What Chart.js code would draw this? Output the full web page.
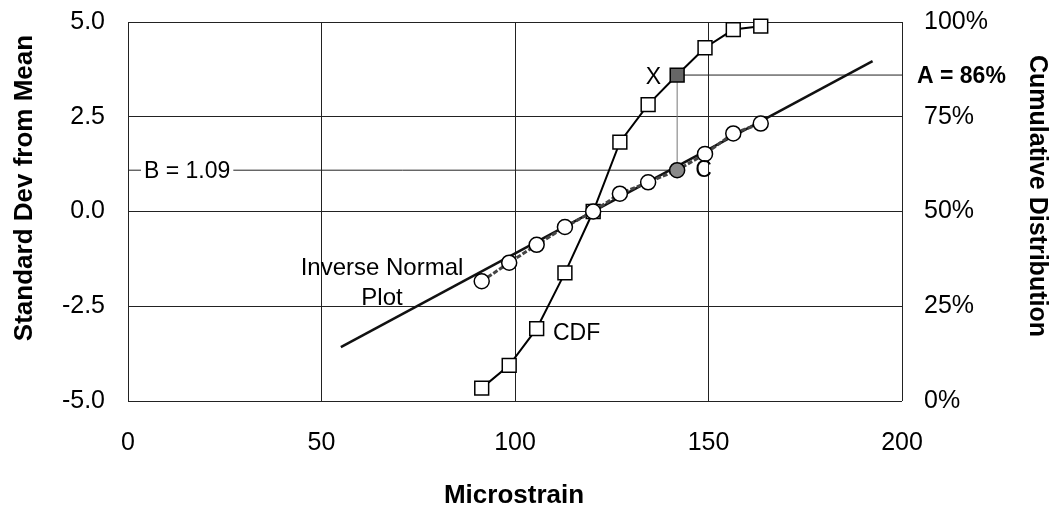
<!DOCTYPE html>
<html>
<head>
<meta charset="utf-8">
<script src="https://cdn.jsdelivr.net/npm/chart.js@4.4.1/dist/chart.umd.min.js"></script>
<style>
  html, body { margin: 0; padding: 0; background: #fff; }
  #wrap { width: 1056px; height: 507px; }
</style>
</head>
<body>
<div id="wrap"><canvas id="chart" width="1056" height="507"></canvas></div>
<script>
// values
var microstrain = [91.4, 98.5, 105.6, 112.9, 120.2, 127.1, 134.4, 141.9, 149.1, 156.4, 163.5];
var stdDevFromMean = [-1.84, -1.35, -0.88, -0.41, 0.0, 0.47, 0.77, 1.09, 1.52, 2.06, 2.32];
var cumulativePct = [3.4, 9.4, 19.1, 33.8, 50.0, 68.3, 78.2, 86.0, 93.2, 98.0, 98.9];
var fitX = [55, 192.4];
var fitY = [-3.58, 3.97];
var xTicks = [0, 50, 100, 150, 200];
var leftTicks = [-5.0, -2.5, 0.0, 2.5, 5.0];
var rightTicks = [0, 25, 50, 75, 100];
var markIndex = 7;      // the point marked X / C
var aValue = 86;        // A = 86%
var bValue = 1.09;      // B = 1.09

var FONT = '"Liberation Sans", Arial, Helvetica, sans-serif';

function pts(xs, ys) {
    return xs.map(function(x, i) { return { x: x, y: ys[i] }; });
}

function fillFor(base, marked) {
    return microstrain.map(function(_, i) { return i === markIndex ? marked : base; });
}

function setTicks(list) {
    return function(scale) {
        scale.ticks = list.map(function(v) { return { value: v }; });
    };
}

// fixed box sizes so the plot frame lands where the reference has it
function fixWidth(w) {
    return function(s) {
        s.width = w;
        s.paddingTop = 0;
        s.paddingBottom = 0;
    };
}

function fixHeight(h) {
    return function(s) {
        s.height = h;
        s.paddingLeft = 0;
        s.paddingRight = 0;
    };
}

var textPlugin = {
    id: 'textLabels',
    afterDraw: function(chart) {
        var ctx = chart.ctx;
        var sx = chart.scales.x, sy = chart.scales.y, sy2 = chart.scales.y2;
        var area = chart.chartArea;
        var mx = sx.getPixelForValue(microstrain[markIndex]);
        var cy = sy.getPixelForValue(bValue);
        var ay = sy2.getPixelForValue(aValue);

        ctx.save();
        ctx.fillStyle = '#000';
        ctx.textBaseline = 'alphabetic';

        // B label sits on its line, with a white box behind
        ctx.font = '23px ' + FONT;
        var bText = 'B = ' + bValue.toFixed(2);
        var bw = ctx.measureText(bText).width;
        ctx.fillStyle = '#fff';
        ctx.fillRect(area.left + 13, cy - 12, bw + 6, 24);
        ctx.fillStyle = '#000';
        ctx.textAlign = 'left';
        ctx.fillText(bText, area.left + 16, cy + 8);

        ctx.font = 'bold 23px ' + FONT;
        ctx.fillText('A = ' + aValue + '%', 917, ay + 8);

        ctx.font = '23px ' + FONT;
        ctx.textAlign = 'right';
        ctx.fillText('X', mx - 16, ay + 9);
        ctx.textAlign = 'left';
        ctx.fillText('C', mx + 18, cy + 7);

        ctx.textAlign = 'center';
        ctx.font = '24px ' + FONT;
        ctx.fillText('Inverse Normal', 382, 275);
        ctx.fillText('Plot', 382, 305);
        ctx.textAlign = 'left';
        ctx.font = '23px ' + FONT;
        ctx.fillText('CDF', 553, 340);

        // axis titles
        ctx.font = 'bold 26px ' + FONT;
        ctx.textAlign = 'center';
        ctx.fillText('Microstrain', 514, 503);

        ctx.save();
        ctx.translate(32, 188);
        ctx.rotate(-Math.PI / 2);
        ctx.fillText('Standard Dev from Mean', 0, 0);
        ctx.restore();

        ctx.save();
        ctx.font = 'bold 25px ' + FONT;
        ctx.translate(1030, 196);
        ctx.rotate(Math.PI / 2);
        ctx.fillText('Cumulative Distribution', 0, 0);
        ctx.restore();

        ctx.restore();
    }
};

function initChart() {
    var canvas = document.getElementById('chart');
    var mark = microstrain[markIndex];
    new Chart(canvas, {
        type: 'scatter',
        data: {
            datasets: [{
                label: 'Inverse Normal points',
                data: pts(microstrain, stdDevFromMean),
                yAxisID: 'y',
                showLine: true,
                borderColor: '#444',
                borderWidth: 3,
                borderDash: [5, 2],
                pointRadius: 7.5,
                pointBorderWidth: 1.5,
                pointBorderColor: '#000',
                pointBackgroundColor: fillFor('#fff', '#8a8a8a')
            }, {
                label: 'CDF',
                data: pts(microstrain, cumulativePct),
                yAxisID: 'y2',
                clip: false,
                showLine: true,
                borderColor: '#000',
                borderWidth: 2,
                pointStyle: 'rect',
                pointRadius: 9.8,
                pointBorderWidth: 1.5,
                pointBorderColor: '#000',
                pointBackgroundColor: fillFor('#fff', '#666')
            }, {
                label: 'Inverse Normal Plot',
                data: pts(fitX, fitY),
                yAxisID: 'y',
                showLine: true,
                borderColor: '#111',
                borderWidth: 2.5,
                pointRadius: 0
            }, {
                label: 'B line',
                data: [{ x: 0, y: bValue }, { x: mark, y: bValue }],
                yAxisID: 'y',
                showLine: true,
                borderColor: '#222',
                borderWidth: 1,
                pointRadius: 0
            }, {
                label: 'X to C',
                data: [{ x: mark, y: bValue }, { x: mark, y: (aValue / 10) - 5 }],
                yAxisID: 'y',
                showLine: true,
                borderColor: '#777',
                borderWidth: 1,
                pointRadius: 0
            }, {
                label: 'A line',
                data: [{ x: mark, y: aValue }, { x: 200, y: aValue }],
                yAxisID: 'y2',
                showLine: true,
                borderColor: '#222',
                borderWidth: 1,
                pointRadius: 0
            }]
        },
        options: {
            responsive: false,
            animation: false,
            layout: { padding: { top: 22, left: 0, right: 0, bottom: 0 } },
            plugins: {
                legend: { display: false },
                tooltip: { enabled: false }
            },
            scales: {
                x: {
                    type: 'linear',
                    position: 'bottom',
                    min: 0,
                    max: 200,
                    afterBuildTicks: setTicks(xTicks),
                    afterFit: fixHeight(106),
                    border: { display: false },
                    grid: { color: '#222', lineWidth: 1, drawTicks: false },
                    ticks: { color: '#000', padding: 27, font: { size: 25, family: FONT } }
                },
                y: {
                    position: 'left',
                    min: -5,
                    max: 5,
                    afterBuildTicks: setTicks(leftTicks),
                    afterFit: fixWidth(128),
                    border: { display: false },
                    grid: { color: '#222', lineWidth: 1, drawTicks: false },
                    ticks: {
                        color: '#000',
                        padding: 23,
                        font: { size: 25, family: FONT },
                        callback: function(v) { return Number(v).toFixed(1); }
                    }
                },
                y2: {
                    position: 'right',
                    min: 0,
                    max: 100,
                    afterBuildTicks: setTicks(rightTicks),
                    afterFit: fixWidth(154),
                    border: { display: false },
                    grid: { drawOnChartArea: false, drawTicks: false },
                    ticks: {
                        color: '#000',
                        padding: 22,
                        font: { size: 25, family: FONT },
                        callback: function(v) { return v + '%'; }
                    }
                }
            }
        },
        plugins: [textPlugin]
    });
}

if (document.readyState === 'loading') {
    document.addEventListener('DOMContentLoaded', initChart);
} else {
    initChart();
}
</script>
</body>
</html>
